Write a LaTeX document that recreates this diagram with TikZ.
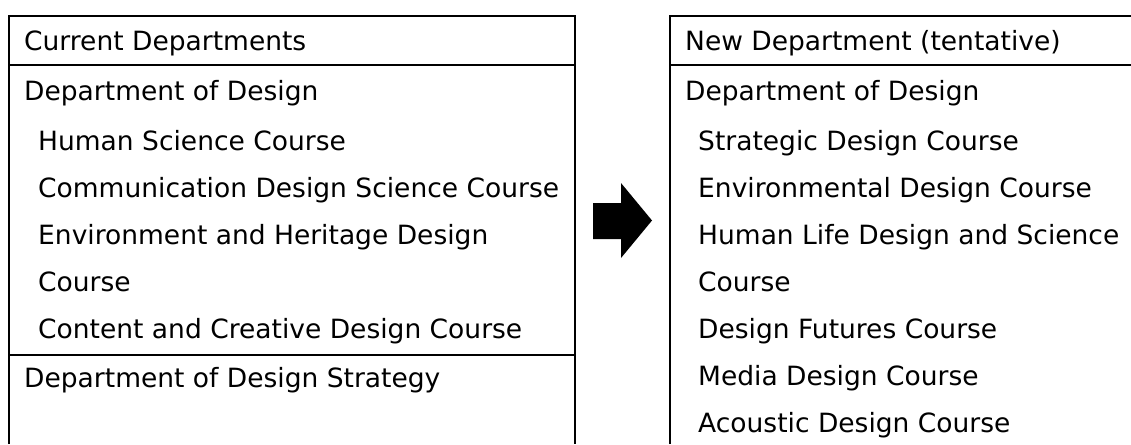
\documentclass[tikz,border=0pt]{standalone}
\usepackage{fontspec}
\setmainfont{DejaVu Sans}

\tikzset{
    row/.style={anchor=base west, inner sep=0pt, font=\fontsize{26.5}{30}\selectfont},
    rule/.style={line width=2pt},
}

\begin{document}
\begin{tikzpicture}[x=1pt,y=-1pt]
        \useasboundingbox (0,0) rectangle (1131,444);

        % Current departments
        \begin{scope}
            \draw[rule] (9,444) -- (9,16) -- (575,16) -- (575,444);
            \draw[rule] (9,65) -- (575,65);
            \draw[rule] (9,355) -- (575,355);

            \node[row] (cur) at (24,51) {Current Departments};
            \node[row] (curdes) at (24,100) {Department of Design};
            \foreach \y/\n/\txt in {150/a/Human Science Course,
                                    197/b/Communication Design Science Course,
                                    244/c/Environment and Heritage Design,
                                    291/d/Course,
                                    338/e/Content and Creative Design Course} {
                \node[row] (cur\n) at (38,\y) {\txt};
            }
            \node[row] (curstr) at (24,387) {Department of Design Strategy};
        \end{scope}

        % Arrow
        \fill (593,203) -- (621,203) -- (621,183) -- (652,220.5)
            -- (621,258) -- (621,239) -- (593,239) -- cycle;

        % New department
        \begin{scope}
            \draw[rule] (670,444) -- (670,16) -- (1131,16);
            \draw[rule] (670,65) -- (1131,65);

            \node[row] (new) at (685,51) {New Department (tentative)};
            \node[row] (newdes) at (685,100) {Department of Design};
            \foreach \y/\n/\txt in {150/a/Strategic Design Course,
                                    197/b/Environmental Design Course,
                                    244/c/Human Life Design and Science,
                                    291/d/Course,
                                    338/e/Design Futures Course,
                                    385/f/Media Design Course,
                                    432/g/Acoustic Design Course} {
                \node[row] (new\n) at (698,\y) {\txt};
            }
        \end{scope}
    \end{tikzpicture}
\end{document}
